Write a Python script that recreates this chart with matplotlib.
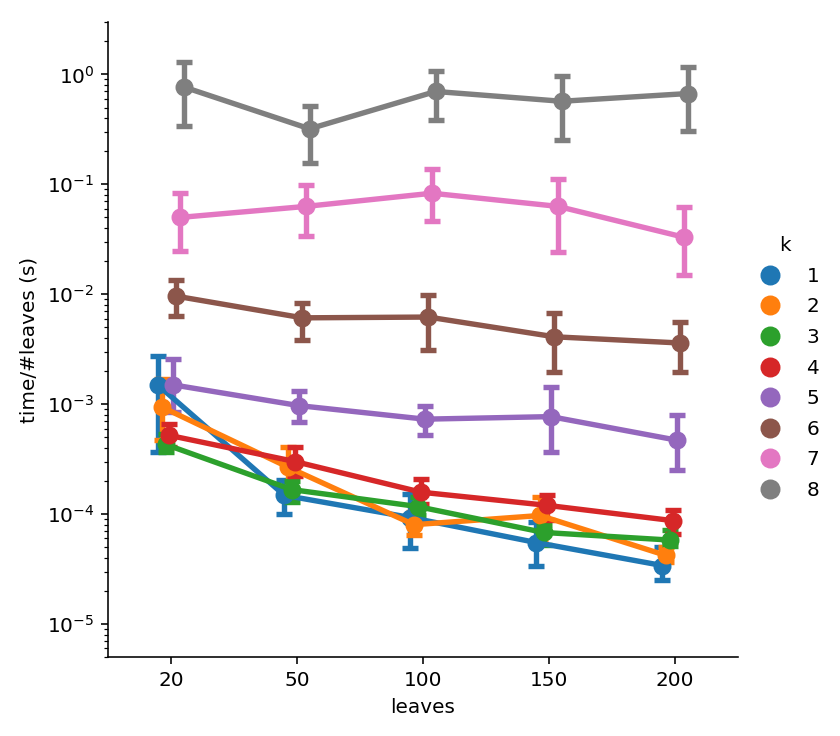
import matplotlib
matplotlib.use("Agg")
import matplotlib.pyplot as plt
from matplotlib.lines import Line2D
import numpy as np

# leaves categories and hue levels (k)
leaves = ["20", "50", "100", "150", "200"]
k_levels = ["1", "2", "3", "4", "5", "6", "7", "8"]
colors = ["#1f77b4", "#ff7f0e", "#2ca02c", "#d62728",
          "#9467bd", "#8c564b", "#e377c2", "#7f7f7f"]

# mean time/#leaves per k (rows) and leaves (columns)
mean = [
    [1.48e-3, 1.48e-4, 9.3e-5, 5.5e-5, 3.4e-5],
    [9.4e-4, 2.67e-4, 8.0e-5, 9.7e-5, 4.2e-5],
    [4.3e-4, 1.67e-4, 1.17e-4, 6.8e-5, 5.8e-5],
    [5.2e-4, 3.0e-4, 1.58e-4, 1.2e-4, 8.7e-5],
    [1.5e-3, 9.7e-4, 7.3e-4, 7.7e-4, 4.7e-4],
    [9.6e-3, 6.1e-3, 6.2e-3, 4.1e-3, 3.6e-3],
    [0.050, 0.063, 0.083, 0.063, 0.033],
    [0.77, 0.32, 0.70, 0.57, 0.67],
]
# confidence interval bounds
low = [
    [3.7e-4, 1.01e-4, 4.9e-5, 3.4e-5, 2.5e-5],
    [4.7e-4, 1.64e-4, 6.4e-5, 5.75e-5, 3.65e-5],
    [3.7e-4, 1.28e-4, 9.7e-5, 5.2e-5, 5.1e-5],
    [4.1e-4, 2.2e-4, 1.24e-4, 8.9e-5, 6.6e-5],
    [8.5e-4, 6.9e-4, 5.2e-4, 3.7e-4, 2.5e-4],
    [6.4e-3, 3.8e-3, 3.1e-3, 1.96e-3, 1.98e-3],
    [0.025, 0.034, 0.046, 0.024, 0.015],
    [0.336, 0.157, 0.387, 0.255, 0.305],
]
high = [
    [2.77e-3, 2.02e-4, 1.53e-4, 8.4e-5, 5.0e-5],
    [1.70e-3, 4.1e-4, 1.04e-4, 1.43e-4, 5.0e-5],
    [5.3e-4, 1.98e-4, 1.42e-4, 8.0e-5, 7.2e-5],
    [6.6e-4, 4.1e-4, 2.09e-4, 1.48e-4, 1.08e-4],
    [2.59e-3, 1.31e-3, 9.6e-4, 1.42e-3, 7.9e-4],
    [0.0136, 8.4e-3, 9.9e-3, 6.7e-3, 5.6e-3],
    [0.084, 0.098, 0.137, 0.113, 0.062],
    [1.31, 0.52, 1.07, 0.97, 1.16],
]

fig = plt.figure(figsize=(840 / 144, 736 / 144), dpi=144)
ax = fig.add_axes([0.1286, 0.1073, 0.75, 0.8628])

offsets = np.linspace(-0.1, 0.1, len(k_levels))
x = np.arange(len(leaves))
handles = []
for i, k in enumerate(k_levels):
    m = np.array(mean[i])
    yerr = [m - np.array(low[i]), np.array(high[i]) - m]
    ax.errorbar(x + offsets[i], m, yerr=yerr, color=colors[i], fmt="-o",
                lw=2.7, ms=8, capsize=3.9, capthick=2.7, elinewidth=2.7)
    handles.append(Line2D([], [], ls="", marker="o", ms=9, color=colors[i], label=k))

ax.set_yscale("log")
ax.set_ylim(5e-6, 3)
ax.set_xlim(-0.5, 4.5)
ax.set_xticks(x)
ax.set_xticklabels(leaves)
ax.set_xlabel("leaves")
ax.set_ylabel("time/#leaves (s)")
ax.spines["top"].set_visible(False)
ax.spines["right"].set_visible(False)

fig.legend(handles=handles, title="k", loc="center left",
           bbox_to_anchor=(0.872, 0.5), frameon=False, labelspacing=0.58)

fig.savefig("out.png", dpi=144)
